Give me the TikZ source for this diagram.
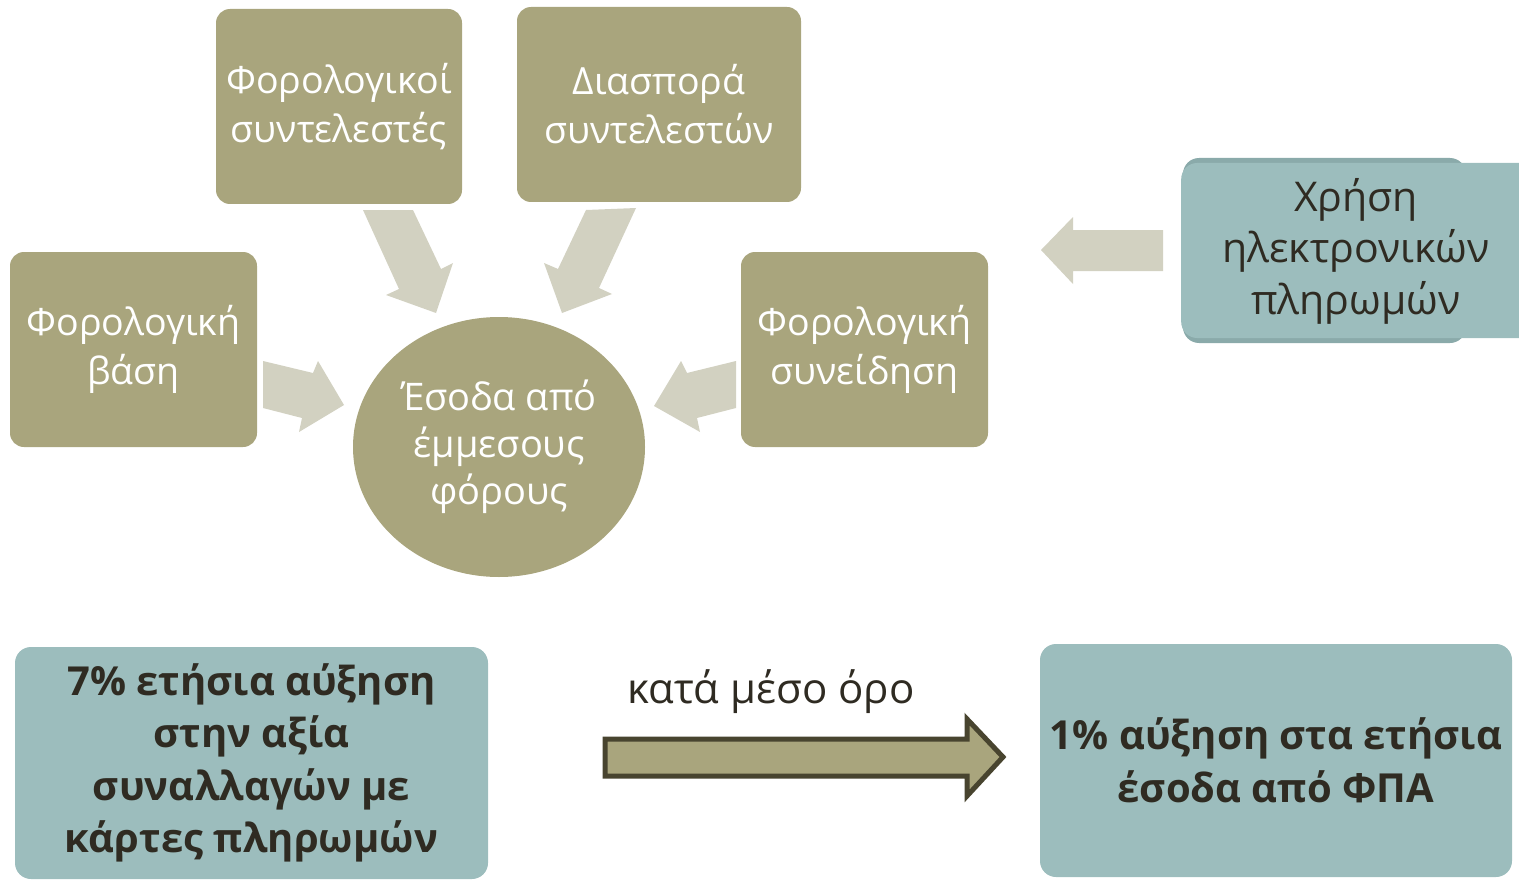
\documentclass[tikz,border=0pt]{standalone}
\usepackage{fontspec}
\setmainfont{Open Sans}
\usetikzlibrary{shapes.geometric}
\definecolor{olive}{HTML}{A9A57D}
\definecolor{lightarrow}{HTML}{D2D1C1}
\definecolor{teal}{HTML}{9CBDBD}
\definecolor{tealshadow}{HTML}{8AAAAA}
\definecolor{darktext}{HTML}{2F2B22}
\definecolor{arrowline}{HTML}{48442F}
\tikzset{
  olivebox/.style={rectangle, rounded corners=14pt, fill=olive, text=white, inner sep=0pt, align=center,
    font=\fontsize{37.5}{49}\selectfont},
  tealbox/.style={rectangle, rounded corners=16pt, fill=teal, text=darktext, inner sep=0pt, align=center,
    font=\fontsize{40}{52.5}\selectfont\bfseries},
  blockarrow/.style={fill=lightarrow, draw=none},
}
\begin{document}
\begin{tikzpicture}[x=1pt,y=-1pt]
\useasboundingbox (0,0) rectangle (1519,880);
\clip (0,0) rectangle (1519,880);
% top boxes
\node[olivebox, minimum width=246pt, minimum height=195pt] (rates) at (339,106.5) {Φορολογικοί\\συντελεστές};
\node[olivebox, minimum width=284pt, minimum height=195pt] (spread) at (659,104.5) {Διασπορά\\συντελεστών};
\node[olivebox, minimum width=247pt, minimum height=195pt] (base) at (133.5,349.5) {Φορολογική\\βάση};
\node[olivebox, minimum width=247pt, minimum height=195pt] (consc) at (864.5,349.5) {Φορολογική\\συνείδηση};
\node[ellipse, fill=olive, text=white, inner sep=0pt, minimum width=292pt, minimum height=260pt, align=center,
  font=\fontsize{38}{47}\selectfont] (rev) at (499,447) {Έσοδα από\\έμμεσους\\φόρους};
% light block arrows
\fill[blockarrow] (363,210) -- (413,210) -- (441,269) -- (453,263) -- (436,313) -- (386,295) -- (399,289) -- cycle;
\fill[blockarrow] (636,208) -- (586,210) -- (558,269) -- (544,263) -- (562,313) -- (612,294) -- (599,288) -- cycle;
\fill[blockarrow] (263,361) -- (313,373) -- (318,361) -- (344,405) -- (299,432) -- (302,418) -- (263,408) -- cycle;
\fill[blockarrow] (736,361) -- (687,373) -- (681,361) -- (654,406) -- (700,432) -- (697,418) -- (736,408) -- cycle;
\fill[blockarrow] (1163,230) -- (1073,230) -- (1073,217) -- (1041,250) -- (1073,284) -- (1073,271) -- (1163,271) -- cycle;
% right box with shadow
\fill[tealshadow, rounded corners=16pt] (1183,158) rectangle (1466,343);
\node[rectangle, rounded corners=16pt, fill=teal, inner sep=0pt,
  minimum width=360pt, minimum height=175pt, anchor=west] (epay) at (1181,250.5) {};
\node[text=darktext, align=center, font=\fontsize{41}{51.5}\selectfont] (epaytext) at (1356,251) {Χρήση\\ηλεκτρονικών\\πληρωμών};
% bottom boxes
\node[tealbox, minimum width=473pt, minimum height=232pt] (cards) at (251.5,763) {7\% ετήσια αύξηση\\στην αξία\\συναλλαγών με\\κάρτες πληρωμών};
\node[tealbox, minimum width=472pt, minimum height=233pt] (vat) at (1276,760.5) {1\% αύξηση στα ετήσια\\έσοδα από ΦΠΑ};
% big arrow
\draw[arrowline, line width=5pt, fill=olive, line join=miter] (605,739) -- (967,739) -- (967,719) -- (1003,757) -- (967,796) -- (967,776) -- (605,776) -- cycle;
\node[text=darktext, font=\fontsize{42}{50}\selectfont] (avg) at (771,692) {κατά μέσο όρο};
\end{tikzpicture}
\end{document}
